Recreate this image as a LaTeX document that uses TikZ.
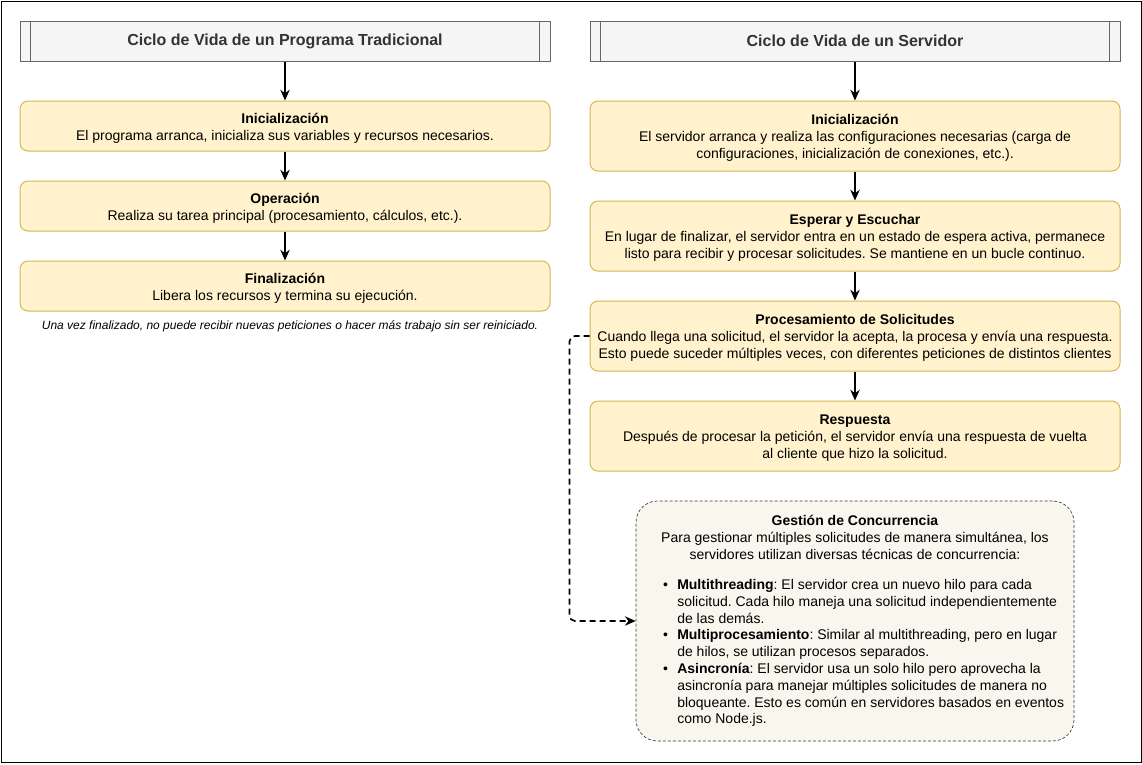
\documentclass[tikz,border=0pt]{standalone}
\usepackage{fontspec}
\setmainfont{Liberation Sans}
\usetikzlibrary{arrows.meta}
\frenchspacing
\newcommand\boxtitle[1]{\rule{0pt}{11.5pt}\textbf{#1}}
\newcommand\rboxtitle[1]{\rule{0pt}{10pt}\textbf{#1}}
\definecolor{hdfill}{HTML}{F5F5F5}
\definecolor{hdstroke}{HTML}{666666}
\definecolor{hdtext}{HTML}{333333}
\definecolor{yfill}{HTML}{FFF2CC}
\definecolor{ystroke}{HTML}{D6B656}
\definecolor{gfill}{HTML}{F9F7ED}
\definecolor{gstroke}{HTML}{36393D}
\tikzset{
  hdr/.style={draw=hdstroke, fill=hdfill, line width=0.75pt, minimum width=397.5pt, minimum height=30pt, inner sep=0pt, text=hdtext, font=\fontsize{12pt}{14pt}\selectfont\bfseries},
  ybox/.style={draw=ystroke, fill=yfill, rounded corners=6pt, line width=0.75pt, minimum width=397.5pt, inner sep=0pt, align=center, font=\fontsize{10.5pt}{12.6pt}\selectfont},
  lbox/.style={ybox, minimum height=37.5pt},
  rbox/.style={ybox, minimum height=52.5pt},
  gbox/.style={draw=gstroke, fill=gfill, rounded corners=16pt, line width=0.5pt, dash pattern=on 2.25pt off 1.5pt, minimum width=328.5pt, minimum height=180pt, inner sep=0pt},
  flow/.style={line width=1.5pt, -{Stealth[length=8pt,width=7pt,inset=2.5pt]}},
  dflow/.style={line width=1.2pt, dash pattern=on 4.5pt off 3pt, rounded corners=4pt, -{Stealth[length=8pt,width=7pt,inset=2.5pt]}},
  hline/.style={draw=hdstroke, line width=0.75pt},
  txt/.style={font=\fontsize{10.5pt}{12.6pt}\selectfont, inner sep=0pt}
}
\begin{document}
\begin{tikzpicture}[x=0.75pt,y=-0.75pt]
\useasboundingbox (0,0) rectangle (1142,764);
\draw[line width=0.75pt] (1,1) rectangle (1141,762);

% headers
\node[hdr] (h1) at (285,41) {Ciclo de Vida de un Programa Tradicional};
\node[hdr] (h2) at (855,41) {Ciclo de Vida de un Servidor};
\foreach \h in {h1,h2}{
  \draw[hline] ([xshift=8.25pt]\h.north west) -- ([xshift=8.25pt]\h.south west);
  \draw[hline] ([xshift=-8.25pt]\h.north east) -- ([xshift=-8.25pt]\h.south east);
}

% left column
\node[lbox] (l1) at (285,126) {\boxtitle{Inicialización}\\El programa arranca, inicializa sus variables y recursos necesarios.};
\node[lbox] (l2) at (285,206) {\boxtitle{Operación}\\Realiza su tarea principal (procesamiento, cálculos, etc.).};
\node[lbox] (l3) at (285,286) {\boxtitle{Finalización}\\Libera los recursos y termina su ejecución.};
\node[font=\fontsize{9pt}{11pt}\selectfont\itshape, inner sep=0pt] (note) at (290,326.5) {Una vez finalizado, no puede recibir nuevas peticiones o hacer más trabajo sin ser reiniciado.};

% right column
\node[rbox] (r1) at (855,136) {\rboxtitle{Inicialización}\\El servidor arranca y realiza las configuraciones necesarias (carga de\\configuraciones, inicialización de conexiones, etc.).};
\node[rbox] (r2) at (855,236) {\rboxtitle{Esperar y Escuchar}\\En lugar de finalizar, el servidor entra en un estado de espera activa, permanece\\listo para recibir y procesar solicitudes. Se mantiene en un bucle continuo.};
\node[rbox] (r3) at (855,336) {\rboxtitle{Procesamiento de Solicitudes}\\Cuando llega una solicitud, el servidor la acepta, la procesa y envía una respuesta.\\Esto puede suceder múltiples veces, con diferentes peticiones de distintos clientes};
\node[rbox] (r4) at (855,436) {\rboxtitle{Respuesta}\\Después de procesar la petición, el servidor envía una respuesta de vuelta\\al cliente que hizo la solicitud.};

% concurrency box
\node[gbox] (gc) at (855,621) {};
\node[txt, align=center, anchor=north] (gct) at (855,515) {\textbf{Gestión de Concurrencia}\\Para gestionar múltiples solicitudes de manera simultánea, los\\servidores utilizan diversas técnicas de concurrencia:};
\node[txt, align=left, anchor=north west] (gcl) at (677,579) {%
\llap{\textbullet\hspace{7pt}}\textbf{Multithreading}: El servidor crea un nuevo hilo para cada\\
solicitud. Cada hilo maneja una solicitud independientemente\\
de las demás.\\
\llap{\textbullet\hspace{7pt}}\textbf{Multiprocesamiento}: Similar al multithreading, pero en lugar\\
de hilos, se utilizan procesos separados.\\
\llap{\textbullet\hspace{7pt}}\textbf{Asincronía}: El servidor usa un solo hilo pero aprovecha la\\
asincronía para manejar múltiples solicitudes de manera no\\
bloqueante. Esto es común en servidores basados en eventos\\
como Node.js.};

% connectors
\draw[flow] (h1) -- (l1);
\draw[flow] (l1) -- (l2);
\draw[flow] (l2) -- (l3);
\draw[flow] (h2) -- (r1);
\draw[flow] (r1) -- (r2);
\draw[flow] (r2) -- (r3);
\draw[flow] (r3) -- (r4);
\draw[dflow] (r3.west) -- ++(-20,0) |- (gc.west);
\end{tikzpicture}
\end{document}
